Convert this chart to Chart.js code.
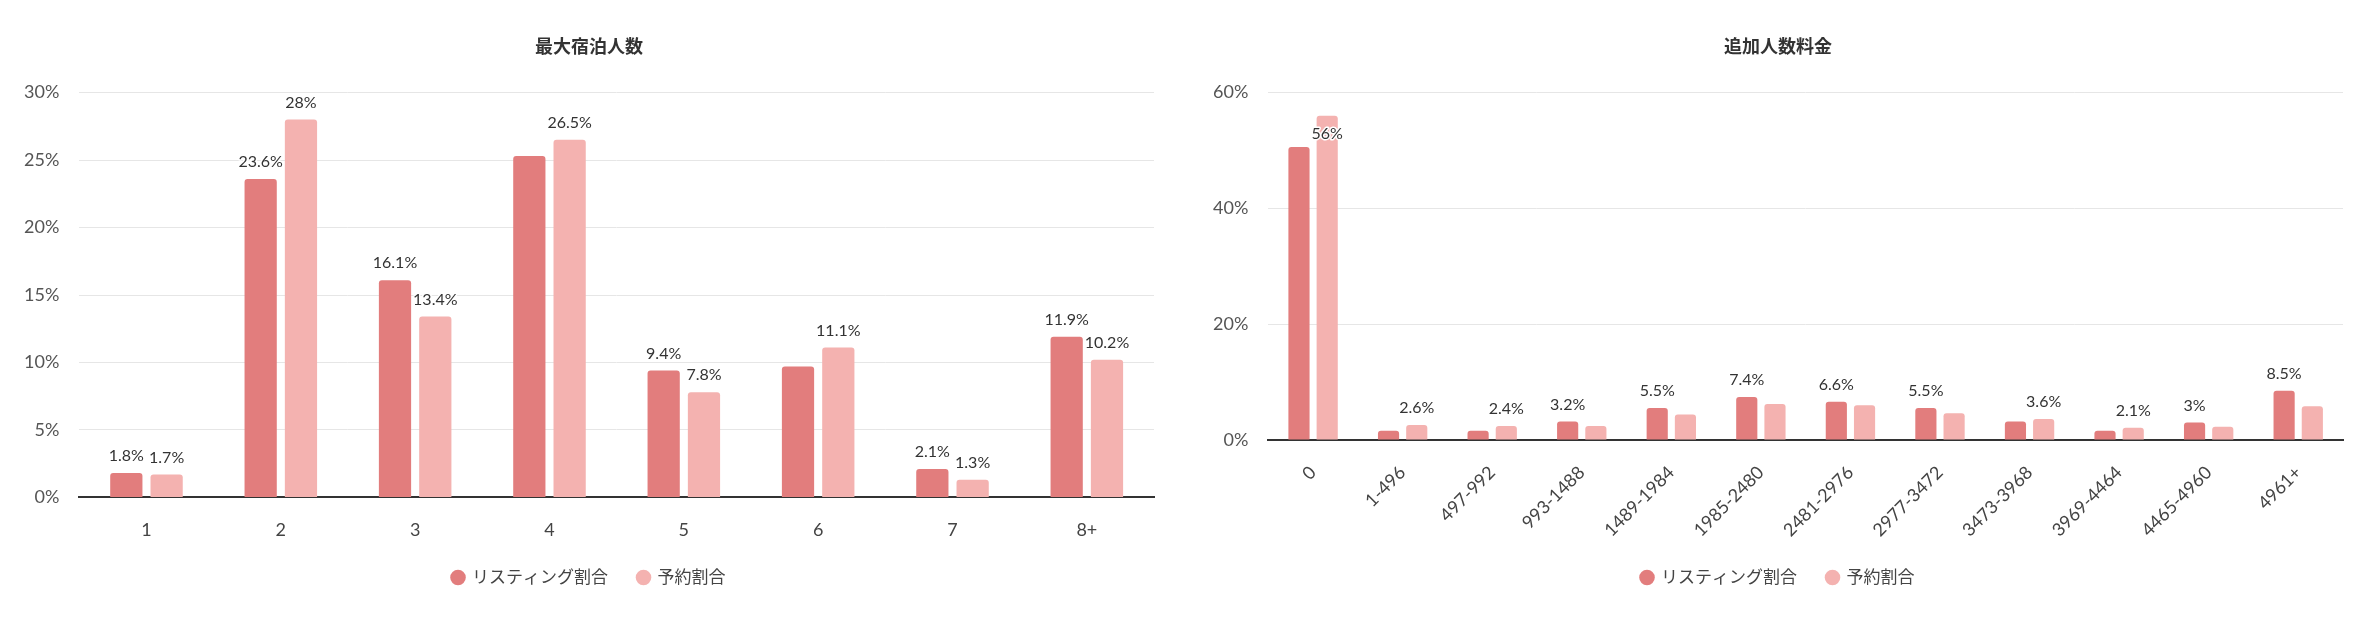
<!DOCTYPE html>
<html lang="ja">
<head>
<meta charset="utf-8">
<title>最大宿泊人数 / 追加人数料金</title>
<script src="https://cdn.jsdelivr.net/npm/chart.js@4.4.1/dist/chart.umd.min.js"></script>
<style>
  body { margin: 0; background: #fff; }
  .wrap { display: flex; width: 2372px; height: 626px; }
  .box { position: relative; width: 1186px; height: 626px; }
</style>
</head>
<body>
<div class="wrap">
  <div class="box"><canvas id="guestsChart"></canvas></div>
  <div class="box"><canvas id="feeChart"></canvas></div>
</div>
<script>
// 凡例
const seriesNames = ["リスティング割合", "予約割合"];
const seriesColors = ["#E27D7D", "#F4B2B0"];

// 最大宿泊人数
const guestCategories = ["1", "2", "3", "4", "5", "6", "7", "8+"];
const guestListing = [1.8, 23.6, 16.1, 25.3, 9.4, 9.7, 2.1, 11.9];
const guestBooking = [1.7, 28, 13.4, 26.5, 7.8, 11.1, 1.3, 10.2];
const guestTicks = [0, 5, 10, 15, 20, 25, 30];

// 追加人数料金
const feeCategories = ["0", "1-496", "497-992", "993-1488", "1489-1984", "1985-2480",
    "2481-2976", "2977-3472", "3473-3968", "3969-4464", "4465-4960", "4961+"];
const feeListing = [50.6, 1.6, 1.6, 3.2, 5.5, 7.4, 6.6, 5.5, 3.2, 1.6, 3, 8.5];
const feeBooking = [56, 2.6, 2.4, 2.4, 4.4, 6.2, 6.0, 4.6, 3.6, 2.1, 2.3, 5.8];
const feeTicks = [0, 20, 40, 60];

Chart.defaults.font.family = "Lato, 'Noto Sans CJK JP', sans-serif";
Chart.defaults.color = "#555";

// 値ラベル（重なるものは高い値を優先して描く）
const valueLabels = {
    id: "valueLabels",
    afterDatasetsDraw(chart) {
        const ctx = chart.ctx;
        const top = chart.chartArea.top;
        ctx.save();
        ctx.font = "16px Lato, 'Noto Sans CJK JP', sans-serif";
        ctx.textAlign = "center";
        ctx.textBaseline = "middle";

        const items = [];
        chart.data.datasets.forEach((ds, di) => {
            chart.getDatasetMeta(di).data.forEach((bar, i) => {
                const v = ds.data[i];
                const text = v + "%";
                const w = ctx.measureText(text).width;
                // 上端に近すぎる棒は内側に入れる
                const y = bar.y - top < 25 ? bar.y + 18 : bar.y - 17;
                items.push({ v, text, x: bar.x, y, w });
            });
        });
        items.sort((a, b) => b.v - a.v);

        const shown = [];
        items.forEach((it) => {
            const b = { l: it.x - it.w / 2 - 1, r: it.x + it.w / 2 + 1, t: it.y - 10, bt: it.y + 10 };
            const hit = shown.some((s) => b.l < s.r && b.r > s.l && b.t < s.bt && b.bt > s.t);
            if (hit) return;
            shown.push(b);
            ctx.lineWidth = 3;
            ctx.strokeStyle = "#fff";
            ctx.lineJoin = "round";
            ctx.strokeText(it.text, it.x, it.y);
            ctx.fillStyle = "#333";
            ctx.fillText(it.text, it.x, it.y);
        });
        ctx.restore();
    },
};

function makeChart(id, title, labels, listing, booking, ticks, opts) {
    const ctx = document.getElementById(id).getContext("2d");
    const max = ticks[ticks.length - 1];
    return new Chart(ctx, {
        type: "bar",
        data: {
            labels,
            datasets: [
                {
                    label: seriesNames[0],
                    data: listing,
                    backgroundColor: seriesColors[0],
                    borderRadius: 3,
                    categoryPercentage: opts.cat,
                    barPercentage: opts.bar,
                },
                {
                    label: seriesNames[1],
                    data: booking,
                    backgroundColor: seriesColors[1],
                    borderRadius: 3,
                    categoryPercentage: opts.cat,
                    barPercentage: opts.bar,
                },
            ],
        },
        options: {
            responsive: true,
            maintainAspectRatio: false,
            animation: false,
            layout: { padding: { top: 36, bottom: 30, left: opts.left, right: opts.right } },
            plugins: {
                title: {
                    display: true,
                    text: title,
                    color: "#333",
                    font: { size: 18, weight: "bold" },
                    padding: { top: 0, bottom: 35 },
                },
                legend: {
                    position: "bottom",
                    labels: {
                        usePointStyle: true,
                        pointStyle: "circle",
                        boxWidth: 11,
                        boxHeight: 11,
                        padding: 30,
                        color: "#444",
                        font: { size: 17 },
                    },
                },
                tooltip: { enabled: false },
            },
            scales: {
                x: {
                    grid: { display: false, drawTicks: false },
                    border: { display: true, color: "#333", width: 2 },
                    ticks: {
                        color: "#444",
                        font: { size: 18 },
                        padding: 22,
                        minRotation: opts.rot,
                        maxRotation: opts.rot,
                        autoSkip: false,
                    },
                    // 目盛りの下側の余白を詰める
                    afterFit: (scale) => { scale.height -= 24; },
                },
                y: {
                    min: 0,
                    max,
                    afterBuildTicks: (axis) => {
                        axis.ticks = ticks.map((v) => ({ value: v }));
                    },
                    grid: { color: "#e6e6e6", drawTicks: false },
                    border: { display: false },
                    ticks: {
                        color: "#555",
                        font: { size: 18 },
                        padding: 20,
                        callback: (v) => v + "%",
                    },
                    afterFit: (scale) => { scale.width -= 20; },
                },
            },
        },
        plugins: [valueLabels],
    });
}

makeChart("guestsChart", "最大宿泊人数", guestCategories, guestListing, guestBooking, guestTicks,
    { cat: 0.6, bar: 0.8, rot: 0, left: 24, right: 32 });
makeChart("feeChart", "追加人数料金", feeCategories, feeListing, feeBooking, feeTicks,
    { cat: 0.63, bar: 0.75, rot: 45, left: 27, right: 29 });
</script>
</body>
</html>
